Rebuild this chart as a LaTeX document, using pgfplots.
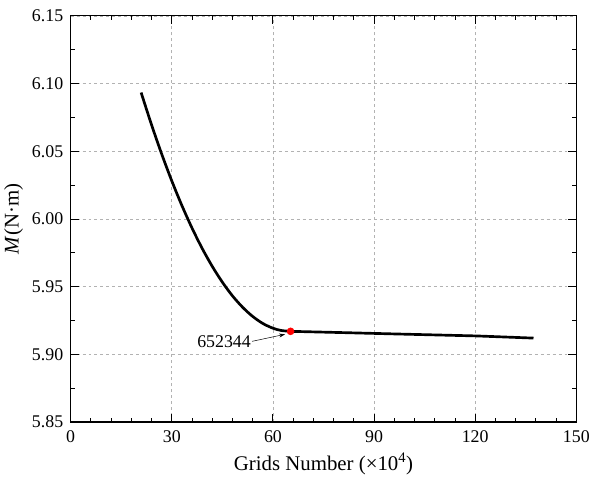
\documentclass[border=0pt]{standalone}
\usepackage{fontspec}
\setmainfont{Liberation Serif}
\usepackage{pgfplots}
\pgfplotsset{compat=1.18}
\usetikzlibrary{arrows.meta}

\begin{document}
\begin{tikzpicture}
\begin{axis}[
  scale only axis,
  width=508bp, height=408bp,
  xmin=0, xmax=150, ymin=5.85, ymax=6.15,
  xtick={0,30,...,150},
  ytick={5.85,5.90,...,6.16},
  minor x tick num=4,
  minor y tick num=1,
  tick align=inside,
  major tick length=8bp,
  minor tick length=4bp,
  axis line style={line width=1.1pt},
  every tick/.style={black, line width=0.9pt},
  grid=major,
  major grid style={dashed, gray!60, line width=0.6pt},
  tick label style={font=\fontsize{18}{21}\selectfont},
  /pgf/number format/assume math mode=true,
  xticklabel style={yshift=-5bp},
  yticklabel style={xshift=-4bp, /pgf/number format/.cd, fixed, fixed zerofill, precision=2},
  xlabel={Grids Number (×10\textsuperscript{4})},
  ylabel={\textit{M}(N·m)},
  label style={font=\fontsize{21}{25}\selectfont},
  xlabel style={yshift=-4bp},
  ylabel style={yshift=2bp},
  clip=false,
]
% grid independence curve
\addplot[black, line width=2.7pt, smooth] coordinates {
  (20.9,6.0934) (24,6.0695) (27,6.0480) (30,6.0281) (33,6.0099) (36,5.9933)
  (39,5.9783) (42,5.9650) (45,5.9533) (48,5.9432) (51,5.9348) (54,5.9280)
  (57,5.9228) (60,5.9193) (62.5,5.9176) (65.2344,5.9170)
};
\addplot[black, line width=2.7pt] coordinates {
  (65.2344,5.9170) (80,5.9161) (97.3,5.9150) (120.4,5.9136) (137.3,5.9120)
};
% selected grid
\addplot[only marks, mark=*, mark size=3.6pt, red] coordinates {(65.2344,5.9170)};
\draw[-{Stealth[length=6bp,width=4bp]}, line width=0.5pt]
  (axis cs:53.8,5.9096) -- (axis cs:63.6,5.9148);
\node[font=\fontsize{18}{21}\selectfont, anchor=east, inner sep=1bp] at (axis cs:53.8,5.9096) {652344};
\end{axis}
\path ([shift={(-71bp,-55bp)}]current axis.south west) rectangle ([shift={(14bp,16bp)}]current axis.north east);
\end{tikzpicture}
\end{document}
